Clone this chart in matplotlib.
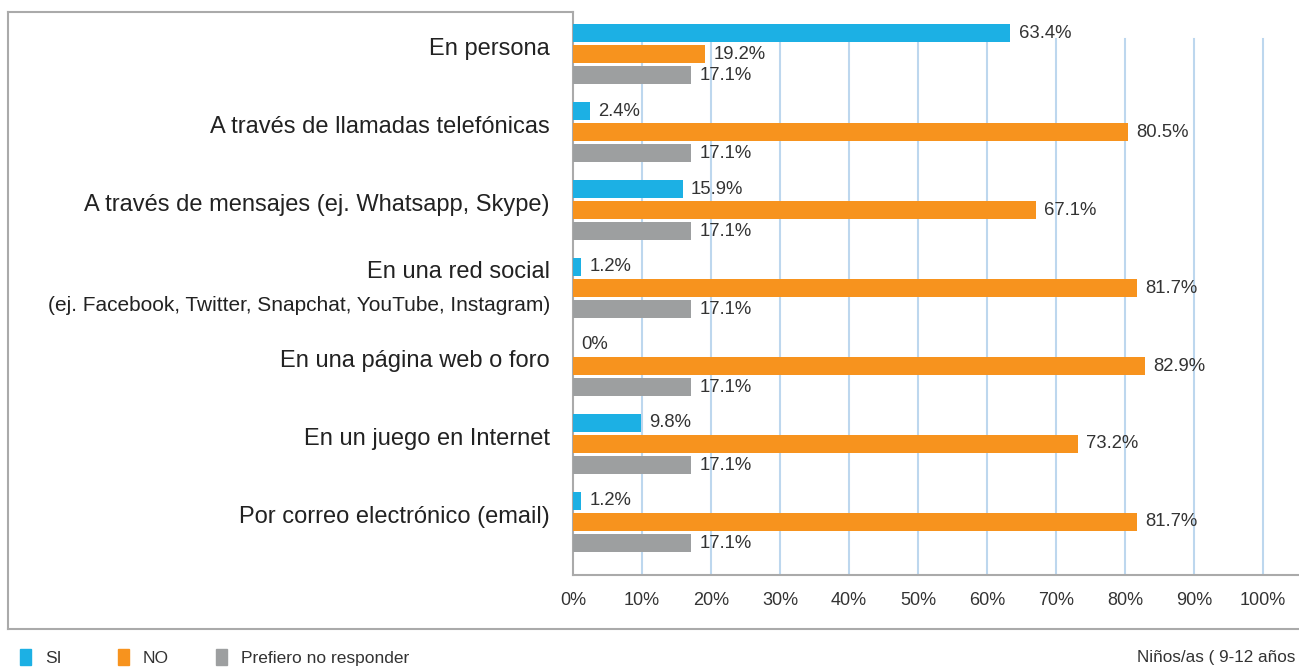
import numpy as np
import matplotlib.pyplot as plt
from matplotlib.lines import Line2D
from matplotlib.patches import Rectangle

plt.rcParams['font.family'] = ['Liberation Sans', 'DejaVu Sans']

categorias = ['En persona',
              'A través de llamadas telefónicas',
              'A través de mensajes (ej. Whatsapp, Skype)',
              'En una red social',
              'En una página web o foro',
              'En un juego en Internet',
              'Por correo electrónico (email)']
subtitulo_red = '(ej. Facebook, Twitter, Snapchat, YouTube, Instagram)'
si = [63.4, 2.4, 15.9, 1.2, 0, 9.8, 1.2]
no = [19.2, 80.5, 67.1, 81.7, 82.9, 73.2, 81.7]
prefiero = [17.1, 17.1, 17.1, 17.1, 17.1, 17.1, 17.1]
series = ['SI', 'NO', 'Prefiero no responder']
colores = ['#1CB0E4', '#F7931E', '#9D9FA0']
ticks = list(range(0, 101, 10))

W, H = 1299, 667
fig = plt.figure(figsize=(W / 100, H / 100), dpi=100)
ax = fig.add_axes([573 / W, 1 - 575 / H, (W - 573) / W, (575 - 12) / H])

y = np.arange(len(categorias))
off = 0.27
alto = 0.235
for vals, col, d in zip([si, no, prefiero], colores, [-off, 0, off]):
    ax.barh(y + d, vals, height=alto, color=col, zorder=3)
    for yi, v in zip(y, vals):
        ax.text(v + 1.2, yi + d, f'{v:g}%', va='center', ha='left',
                fontsize=13.3, color='#333333', zorder=4)

ax.set_xlim(0, (W - 573) / 6.9)
ax.set_ylim(6.68, -0.54)

# lineas de rejilla
for t in ticks[1:]:
    ax.axvline(t, ymin=0, ymax=(575 - 39) / (575 - 12), color='#BDD7EE', lw=1.5, zorder=1)

ax.set_xticks(ticks)
ax.set_xticklabels([f'{t}%' for t in ticks], fontsize=13, color='#333333')
ax.tick_params(axis='x', length=0, pad=12)
ax.set_yticks([])
for s in ['top', 'right']:
    ax.spines[s].set_visible(False)
ax.spines['left'].set_color('#AAAAAA')
ax.spines['bottom'].set_color('#AAAAAA')
ax.spines['left'].set_linewidth(1.5)
ax.spines['bottom'].set_linewidth(1.5)

lx = (550 - 573) / (W - 573)
tr = ax.get_yaxis_transform()
for i, c in enumerate(categorias):
    if i == 3:
        ax.text(lx, i - 0.2, c, transform=tr, ha='right', va='center', fontsize=17, color='#222222')
        ax.text(lx, i + 0.22, subtitulo_red, transform=tr, ha='right', va='center', fontsize=15, color='#222222')
    else:
        ax.text(lx, i - 0.07, c, transform=tr, ha='right', va='center', fontsize=17, color='#222222')

# marco exterior
gris = '#AAAAAA'
fig.add_artist(Line2D([8 / W, 8 / W], [1 - 629 / H, 1 - 12 / H], color=gris, lw=1.5))
fig.add_artist(Line2D([8 / W, 573 / W], [1 - 12 / H, 1 - 12 / H], color=gris, lw=1.5))
fig.add_artist(Line2D([8 / W, 1], [1 - 629 / H, 1 - 629 / H], color=gris, lw=1.5))

# leyenda
leg_x = [20, 118, 216]
for lx0, nombre, col in zip(leg_x, series, colores):
    fig.add_artist(Rectangle((lx0 / W, 1 - 665 / H), 11 / W, 16 / H, color=col))
    fig.text((lx0 + 25) / W, 1 - 663 / H, nombre, fontsize=12.5, va='baseline', ha='left', color='#333333')
fig.text(1295 / W, 1 - 662 / H, 'Niños/as ( 9-12 años', fontsize=12.3, va='baseline', ha='right', color='#333333')

fig.savefig('out.png', dpi=100)
